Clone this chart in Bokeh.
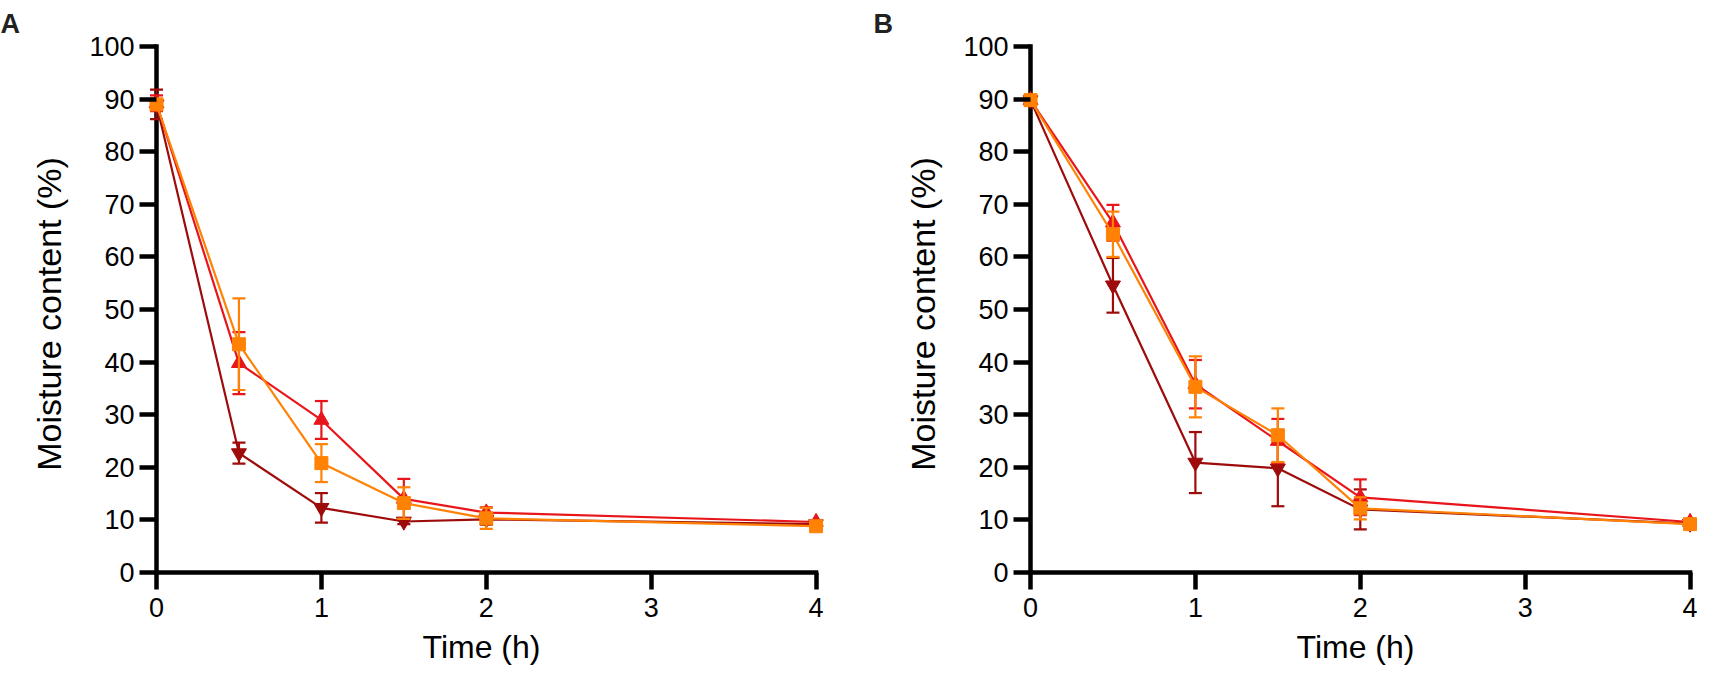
from bokeh.plotting import figure
from bokeh.models import Range1d, FixedTicker, Title
from bokeh.layouts import row
from bokeh.embed import file_html
from bokeh.resources import INLINE

time_h = [0, 0.5, 1, 1.5, 2, 4]
x_ticks = [0, 1, 2, 3, 4]
y_ticks = [0, 10, 20, 30, 40, 50, 60, 70, 80, 90, 100]

# Panel A
a_darkred = [89.0, 22.7, 12.3, 9.7, 10.1, 9.2]
a_darkred_sd = [2.8, 2.0, 2.8, 0.5, 1.0, 0.3]
a_red = [89.2, 39.8, 29.0, 14.0, 11.4, 9.6]
a_red_sd = [1.5, 5.9, 3.6, 3.8, 1.0, 0.3]
a_orange = [89.0, 43.4, 20.8, 13.2, 10.3, 8.8]
a_orange_sd = [1.0, 8.7, 3.6, 3.0, 2.0, 0.3]

# Panel B
b_darkred = [89.8, 54.6, 20.9, 19.8, 12.0, 9.3]
b_darkred_sd = [0.8, 5.2, 5.8, 7.2, 3.8, 0.3]
b_red = [89.8, 66.5, 35.8, 25.0, 14.3, 9.6]
b_red_sd = [0.8, 3.4, 4.6, 4.2, 3.4, 0.3]
b_orange = [89.8, 64.3, 35.3, 26.1, 12.2, 9.2]
b_orange_sd = [0.8, 4.3, 5.8, 5.1, 2.1, 0.3]

DARKRED = "#9E0B0B"
RED = "#E8161B"
ORANGE = "#FF8205"
FONT = "Liberation Sans"

FRAME_W = 684
FRAME_H = 551
TICK_LEN = 17


def make_panel(letter, series, border_left, border_right):
    p = figure(width=border_left + FRAME_W + border_right, height=673,
               output_backend="svg", toolbar_location=None,
               x_range=Range1d(-0.1031, 4.045), y_range=Range1d(-3.23, 101.52),
               min_border_left=border_left, min_border_right=border_right,
               min_border_top=38, min_border_bottom=84,
               frame_width=FRAME_W, frame_height=FRAME_H)
    p.outline_line_color = None
    p.grid.visible = False
    p.background_fill_color = "white"
    p.border_fill_color = "white"

    for ax in (p.xaxis[0], p.yaxis[0]):
        ax.axis_line_color = None
        ax.major_tick_line_width = 4.5
        ax.major_tick_line_color = "black"
        ax.major_tick_out = 0
        ax.major_tick_in = TICK_LEN
        ax.minor_tick_line_color = None
        ax.major_label_text_font = FONT
        ax.major_label_text_font_size = "27px"
        ax.major_label_text_color = "black"
        ax.axis_label_text_font = FONT
        ax.axis_label_text_font_style = "normal"
        ax.axis_label_text_color = "black"
    p.xaxis.ticker = FixedTicker(ticks=x_ticks)
    p.yaxis.ticker = FixedTicker(ticks=y_ticks)
    p.xaxis.axis_label = "Time (h)"
    p.yaxis.axis_label = "Moisture content (%)"
    p.xaxis.axis_label_text_font_size = "32px"
    p.yaxis.axis_label_text_font_size = "34px"
    p.xaxis.major_label_standoff = 8
    p.yaxis.major_label_standoff = 5
    p.xaxis.axis_label_standoff = 9
    p.yaxis.axis_label_standoff = 18

    # axis lines at x = 0 and y = 0
    p.segment(x0=[x_ticks[0]], y0=[y_ticks[0]], x1=[x_ticks[0]], y1=[y_ticks[-1]],
              line_color="black", line_width=4.5, line_cap="square")
    p.segment(x0=[x_ticks[0]], y0=[y_ticks[0]], x1=[x_ticks[-1]], y1=[y_ticks[0]],
              line_color="black", line_width=4.5, line_cap="square")

    for vals, sds, color, marker, msize in series:
        lo = [v - s for v, s in zip(vals, sds)]
        hi = [v + s for v, s in zip(vals, sds)]
        p.line(time_h, vals, line_color=color, line_width=2.2)
        p.segment(x0=time_h, y0=lo, x1=time_h, y1=hi, line_color=color, line_width=2.2)
        p.scatter(time_h, lo, marker="dash", size=13, line_color=color, line_width=2.2)
        p.scatter(time_h, hi, marker="dash", size=13, line_color=color, line_width=2.2)
        p.scatter(time_h, vals, marker=marker, size=msize, fill_color=color,
                  line_color=color, line_width=1)

    t = Title(text=letter, align="left", offset=-border_left, standoff=0,
              text_font=FONT, text_font_style="bold", text_font_size="27px",
              text_color="#222222")
    p.add_layout(t, "above")
    return p


pa = make_panel("A", [
    (a_darkred, a_darkred_sd, DARKRED, "inverted_triangle", 15),
    (a_red, a_red_sd, RED, "triangle", 15),
    (a_orange, a_orange_sd, ORANGE, "square", 13),
], 139, 50)

pb = make_panel("B", [
    (b_darkred, b_darkred_sd, DARKRED, "inverted_triangle", 15),
    (b_red, b_red_sd, RED, "triangle", 15),
    (b_orange, b_orange_sd, ORANGE, "square", 13),
], 140, 0)

layout = row(pa, pb)
open("out.html", "w").write(file_html(layout, INLINE))
